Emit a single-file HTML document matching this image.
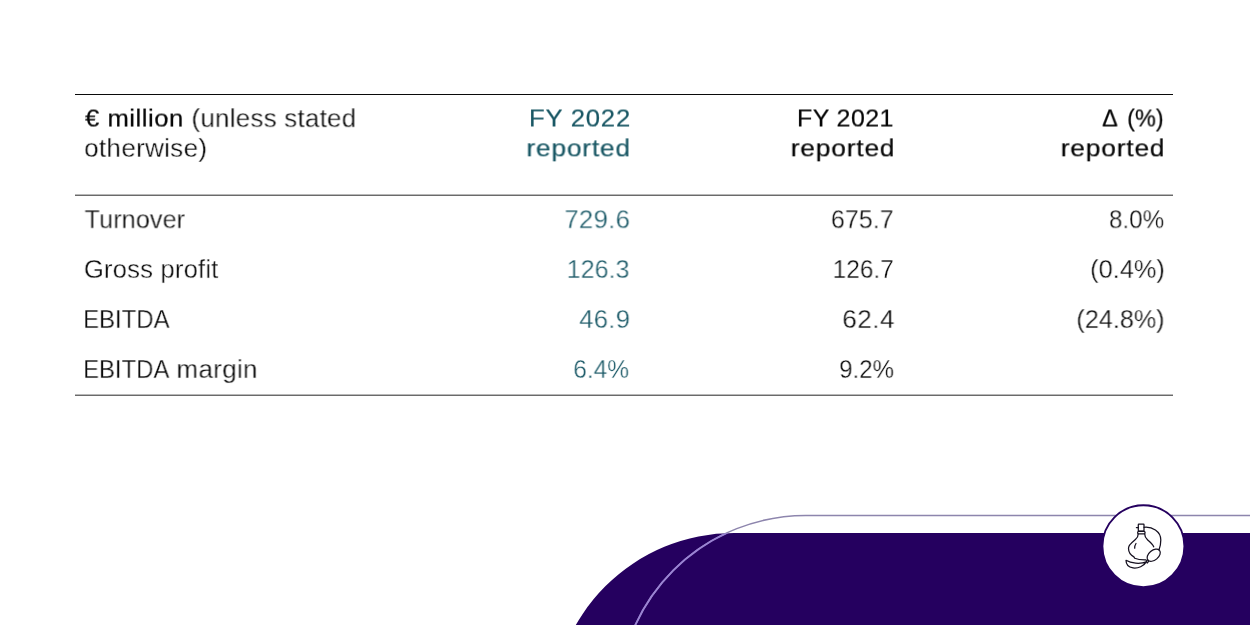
<!DOCTYPE html>
<html>
<head>
<meta charset="utf-8">
<title>Financial summary</title>
<style>
  html, body { margin: 0; padding: 0; background: #ffffff; }
  body { width: 1250px; height: 625px; position: relative; overflow: hidden;
         font-family: "Liberation Sans", sans-serif; color: #1c1c1c; }
  .hline { position: absolute; left: 75px; width: 1098px; height: 1px; }
  .t { position: absolute; white-space: nowrap; line-height: 30px; transform-origin: 0 0; will-change: transform; opacity: 0.999; }
  .m { font-size: 24.2px; -webkit-text-stroke: 0.22px currentColor; }
  .lt { font-size: 25.2px; -webkit-text-stroke: 0.32px #ffffff; }
  .h { color: #050505; }
  .teal { color: #185663; }
  .b { color: #0a0a0a; }
  .t2 { color: #1c5a68; }
  #txt { position:absolute; left:0; top:0; width:1250px; height:625px; }
  svg.deco { position: absolute; left: 0; top: 0; }
</style>
</head>
<body>
  <div class="hline" style="top:94px;background:#0a0a0a;"></div>
  <div class="hline" style="top:194px;background:#b8b8b8;"></div>
  <div class="hline" style="top:195px;background:#6a6a6a;"></div>
  <div class="hline" style="top:394px;background:#b8b8b8;"></div>
  <div class="hline" style="top:395px;background:#6a6a6a;"></div>

<div id="txt">
  <div class="t h m" style="left:85px;top:103px;letter-spacing:0.5px;transform:translate(0.1px,0.54px) rotate(0.02deg) scaleX(1.059)">€ million</div>
  <div class="t h lt" style="left:191px;top:103px;letter-spacing:0.26px;transform:translate(0.5px,0.12px) rotate(0.02deg) scaleX(1.028)">(unless stated</div>
  <div class="t h lt" style="left:84px;top:132px;letter-spacing:0.32px;transform:translate(0.2px,0.92px) rotate(0.02deg) scaleX(1.032)">otherwise)</div>
  <div class="t teal m" style="left:529px;top:103px;letter-spacing:0.71px;transform:translate(0.0px,0.49px) rotate(0.02deg) scaleX(1.062)">FY 2022</div>
  <div class="t teal m" style="left:526px;top:133px;letter-spacing:0.78px;transform:translate(0.5px,0.34px) rotate(0.02deg) scaleX(1.083)">reported</div>
  <div class="t h m" style="left:797px;top:103px;letter-spacing:0.38px;transform:translate(0.0px,0.49px) rotate(0.02deg) scaleX(1.033)">FY 2021</div>
  <div class="t h m" style="left:790px;top:133px;letter-spacing:0.79px;transform:translate(0.8px,0.34px) rotate(0.02deg) scaleX(1.084)">reported</div>
  <div class="t h m" style="left:1102px;top:103px;letter-spacing:0px;transform:translate(0.2px,0.49px) rotate(0.02deg) scaleX(0.963)">Δ</div>
  <div class="t h m" style="left:1127px;top:103px;letter-spacing:0px;transform:translate(0.2px,0.49px) rotate(0.02deg) scaleX(0.971)">(%)</div>
  <div class="t h m" style="left:1060px;top:133px;letter-spacing:0.79px;transform:translate(0.8px,0.34px) rotate(0.02deg) scaleX(1.084)">reported</div>
  <div class="t b lt" style="left:84px;top:204px;letter-spacing:0.04px;transform:translate(0.6px,0.22px) rotate(0.02deg) scaleX(1.004)">Turnover</div>
  <div class="t b lt" style="left:83px;top:254px;letter-spacing:0.17px;transform:translate(0.9px,0.02px) rotate(0.02deg) scaleX(1.018)">Gross profit</div>
  <div class="t b lt" style="left:83px;top:304px;letter-spacing:0px;transform:translate(0.2px,0.02px) rotate(0.02deg) scaleX(0.949)">EBITDA</div>
  <div class="t b lt" style="left:83px;top:354px;letter-spacing:0px;transform:translate(0.2px,0.02px) rotate(0.02deg) scaleX(0.947)">EBITDA</div>
  <div class="t b lt" style="left:176px;top:354px;letter-spacing:0.33px;transform:translate(0.5px,0.02px) rotate(0.02deg) scaleX(1.029)">margin</div>
  <div class="t t2 lt" style="left:564px;top:204px;letter-spacing:0.26px;transform:translate(0.4px,0.22px) rotate(0.02deg) scaleX(1.022)">729.6</div>
  <div class="t t2 lt" style="left:566px;top:254px;letter-spacing:0px;transform:translate(0.7px,0.02px) rotate(0.02deg) scaleX(0.997)">126.3</div>
  <div class="t t2 lt" style="left:579px;top:304px;letter-spacing:0.24px;transform:translate(0.3px,0.02px) rotate(0.02deg) scaleX(1.019)">46.9</div>
  <div class="t t2 lt" style="left:573px;top:354px;letter-spacing:0px;transform:translate(0.3px,0.02px) rotate(0.02deg) scaleX(0.971)">6.4%</div>
  <div class="t b lt" style="left:830px;top:204px;letter-spacing:0px;transform:translate(0.9px,0.22px) rotate(0.02deg) scaleX(0.997)">675.7</div>
  <div class="t b lt" style="left:832px;top:254px;letter-spacing:0px;transform:translate(0.7px,0.02px) rotate(0.02deg) scaleX(0.97)">126.7</div>
  <div class="t b lt" style="left:842px;top:304px;letter-spacing:0.46px;transform:translate(0.3px,0.02px) rotate(0.02deg) scaleX(1.037)">62.4</div>
  <div class="t b lt" style="left:839px;top:354px;letter-spacing:0px;transform:translate(0.2px,0.02px) rotate(0.02deg) scaleX(0.954)">9.2%</div>
  <div class="t b lt" style="left:1109px;top:204px;letter-spacing:0px;transform:translate(0.0px,0.22px) rotate(0.02deg) scaleX(0.961)">8.0%</div>
  <div class="t b lt" style="left:1090px;top:254px;letter-spacing:0.04px;transform:translate(0.2px,0.02px) rotate(0.02deg) scaleX(1.004)">(0.4%)</div>
  <div class="t b lt" style="left:1076px;top:304px;letter-spacing:0.0px;transform:translate(0.4px,0.02px) rotate(0.02deg) scaleX(1.0)">(24.8%)</div>
</div>

  <svg class="deco" width="1250" height="625" viewBox="0 0 1250 625">
    <defs>
      <clipPath id="pclip"><path d="M1250 533 L734 533 A182 182 0 0 0 552 715 L552 625 L1250 625 Z"/></clipPath>
    </defs>
    <path d="M1250 533 L734 533 A182 182 0 0 0 552 715 L552 625 L1250 625 Z" fill="#25005f"/>
    <path d="M1250 515.5 L805.7 515.5 A187.3 187.3 0 0 0 618.4 702.8" fill="none" stroke="#8d85ad" stroke-width="1.55"/>
    <path d="M1250 515.5 L805.7 515.5 A187.3 187.3 0 0 0 618.4 702.8" fill="none" stroke="#9a83d4" stroke-width="1.9" clip-path="url(#pclip)"/>
    <circle cx="1143.4" cy="546.3" r="41" fill="#ffffff" stroke="#25005f" stroke-width="1.9"/>
    <g fill="none" stroke="#15101f" stroke-width="1.25" stroke-linecap="round" stroke-linejoin="round">
      <rect x="1138.3" y="524.2" width="5.7" height="6.8" rx="0.5"/>
      <path d="M1136.4 527.5 H1138.3"/>
      <rect x="1137.7" y="531.3" width="7.3" height="2.6" rx="0.9"/>
      <path d="M1138.2 534 C1138.2 536.6 1137.4 537.9 1135.4 539.6 C1132 542.4 1128.5 544.6 1128.5 548.3 C1128.5 552 1131 555.3 1133.9 556.9 L1134.8 558.3 C1137.5 559.5 1142 560 1146 559.9"/>
      <path d="M1144.7 534 C1144.7 536.6 1145.5 538 1147.5 539.8 C1150.5 542.4 1152.7 544 1153.7 546.8"/>
      <path d="M1136 543.5 C1135 545 1134.6 546.8 1134.7 548.2"/>
      <path d="M1144 527.3 C1152 526.5 1160.8 531 1160.8 540 C1160.8 544 1160 547.5 1159 550"/>
      <ellipse cx="1153.7" cy="555.2" rx="7.6" ry="4.8" transform="rotate(-40 1153.7 555.2)"/>
      <path d="M1147.8 559.8 L1146.2 561 L1147.2 563 L1148.8 561.2"/>
      <path d="M1126 560.3 C1131 563.4 1140 564.4 1146.3 561.9 C1144 566 1138 568.6 1133 567.9 C1128.5 567.2 1126 564 1126 560.3 Z"/>
    </g>
  </svg>
</body>
</html>
